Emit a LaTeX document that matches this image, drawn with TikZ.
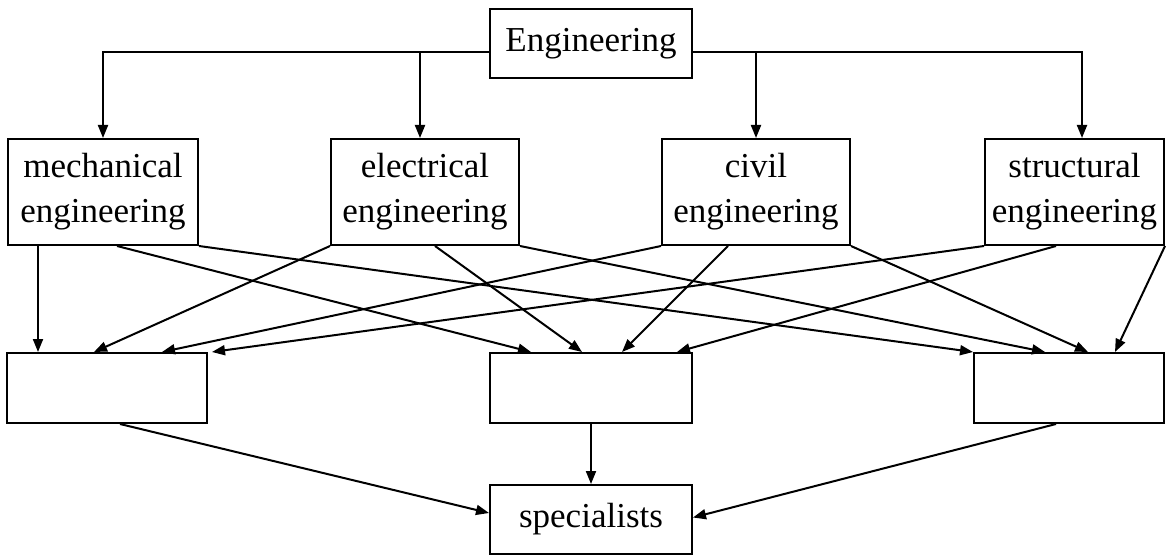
\documentclass[tikz,border=0pt]{standalone}
\usepackage{fontspec}
\setmainfont{Liberation Serif}
\usetikzlibrary{arrows.meta}
\begin{document}
\begin{tikzpicture}[x=1pt,y=-1pt,
  box/.style={draw,line width=2pt,inner sep=0pt,align=center,
    font=\fontsize{35}{45}\selectfont},
  arr/.style={line width=2pt,-{Triangle[length=13pt,width=10pt]}}]
\useasboundingbox (0,0) rectangle (1166,556);
\node[box,minimum width=202pt,minimum height=69pt] (eng) at (591,43.5) {Engineering};
\node[box,minimum width=190pt,minimum height=106pt] (mech) at (103,192) {mechanical\\engineering};
\node[box,minimum width=188pt,minimum height=106pt] (elec) at (425,192) {electrical\\engineering};
\node[box,minimum width=188pt,minimum height=106pt] (civil) at (756,192) {civil\\engineering};
\node[box,minimum width=179pt,minimum height=106pt] (struct) at (1074.5,192) {structural\\engineering};
\node[box,minimum width=200pt,minimum height=70pt] (left) at (107,388) {};
\node[box,minimum width=202pt,minimum height=70pt] (mid) at (591,388) {};
\node[box,minimum width=190pt,minimum height=70pt] (right) at (1069,388) {};
\node[box,minimum width=202pt,minimum height=69pt] (spec) at (591,519.5) {specialists};
% top distribution
\draw[arr] ([yshift=-8.5pt]eng.west) -| (mech.north);
\draw[arr] ([yshift=-8.5pt]eng.west) -| ([xshift=-5pt]elec.north);
\draw[arr] ([yshift=-8.5pt]eng.east) -| (civil.north);
\draw[arr] ([yshift=-8.5pt]eng.east) -| ([xshift=7.5pt]struct.north);
% mechanical
\draw[arr] ([xshift=31pt]mech.south west) -- ([xshift=32pt]left.north west);
\draw[arr] ([xshift=14pt]mech.south) -- ([xshift=42pt]mid.north west);
\draw[arr] (mech.south east) -- (right.north west);
% electrical
\draw[arr] (elec.south west) -- ([xshift=88pt]left.north west);
\draw[arr] ([xshift=10pt]elec.south) -- ([xshift=93pt]mid.north west);
\draw[arr] (elec.south east) -- ([xshift=72pt]right.north west);
% civil
\draw[arr] (civil.south west) -- ([xshift=156pt]left.north west);
\draw[arr] ([xshift=-28pt]civil.south) -- ([xshift=133pt]mid.north west);
\draw[arr] (civil.south east) -- ([xshift=115pt]right.north west);
% structural
\draw[arr] (struct.south west) -- ([xshift=4pt]left.north east);
\draw[arr] ([xshift=-18.5pt]struct.south) -- ([xshift=188pt]mid.north west);
\draw[arr] (struct.south east) -- ([xshift=142pt]right.north west);
% to specialists
\draw[arr] ([xshift=13pt]left.south) -- ([yshift=6.5pt]spec.west);
\draw[arr] (mid.south) -- (spec.north);
\draw[arr] ([xshift=-13pt]right.south) -- ([yshift=2pt]spec.east);
\end{tikzpicture}
\end{document}
